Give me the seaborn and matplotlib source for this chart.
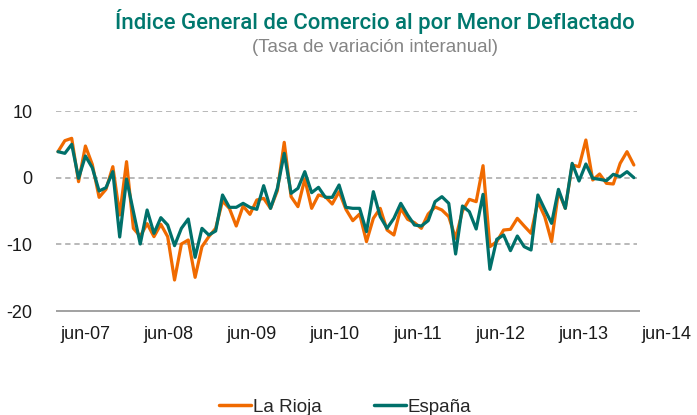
import numpy as np
import pandas as pd
import matplotlib
matplotlib.use("Agg")
import matplotlib.pyplot as plt
import seaborn as sns
from matplotlib.lines import Line2D

# ---- data (Jan 2007 .. Jan 2014, monthly) ----
la_rioja = [3.9, 5.55, 5.9, -0.6, 4.75, 2.0, -2.95, -1.75, 1.65, -5.6, 2.4, -7.6,
            -8.8, -6.9, -8.85, -7.0, -8.85, -15.35, -9.95, -9.35, -14.95, -10.35, -8.85, -7.6,
            -3.5, -4.6, -7.25, -4.25, -5.5, -3.35, -3.1, -4.6, -1.95, 5.3, -2.85, -4.35,
            -0.2, -4.6, -2.6, -2.85, -3.95, -2.1, -4.75, -6.45, -5.45, -9.6, -6.1, -4.6,
            -7.85, -8.6, -4.6, -6.25, -6.75, -7.6, -5.45, -4.4, -4.85, -5.85, -9.1, -5.0,
            -3.25, -3.6, 1.8, -10.35, -9.6, -7.85, -7.75, -6.1, -7.25, -8.35, -3.6, -5.85,
            -9.6, -2.1, -4.6, 1.9, 1.65, 5.65, -0.35, 0.55, -0.85, -0.95, 2.15, 3.9, 1.9]
espana = [3.9, 3.65, 5.0, -0.1, 3.25, 1.5, -2.0, -1.5, 0.9, -8.9, -0.2, -5.1,
          -9.95, -4.85, -8.35, -6.0, -7.1, -10.2, -7.6, -6.2, -11.95, -7.6, -8.6, -8.0,
          -2.6, -4.45, -4.45, -3.85, -4.45, -4.75, -1.2, -4.6, -1.6, 3.65, -2.35, -1.6,
          0.9, -2.25, -1.45, -2.95, -2.95, -1.1, -4.45, -4.6, -4.6, -8.1, -2.1, -5.85,
          -7.6, -6.1, -3.85, -5.6, -7.1, -7.25, -6.45, -3.6, -2.85, -3.85, -11.45, -4.25,
          -5.1, -7.7, -2.5, -13.75, -9.25, -8.6, -10.95, -8.75, -10.35, -10.85, -2.6, -4.75,
          -6.85, -1.75, -4.6, 2.15, -0.5, 2.05, -0.1, -0.25, -0.45, 0.5, 0.15, 0.9, 0.0]
tick_labels = ["jun-07", "jun-08", "jun-09", "jun-10", "jun-11", "jun-12", "jun-13", "jun-14"]
series_names = ["La Rioja", "España"]
y_ticks = [10, 0, -10, -20]

ORANGE = "#F06A00"
TEAL = "#00706A"

n = len(la_rioja)
df = pd.DataFrame({
    "t": list(range(n)) * 2,
    "valor": la_rioja + espana,
    "serie": [series_names[0]] * n + [series_names[1]] * n,
})

sns.set_style("white")
plt.rcParams["font.family"] = ["Liberation Sans", "DejaVu Sans"]

fig = plt.figure(figsize=(6.97, 4.15), dpi=100)
ax = fig.add_axes([56 / 697, 1 - 311 / 415, 619 / 697, 200 / 415])

sns.lineplot(data=df, x="t", y="valor", hue="serie", hue_order=series_names,
             palette=[ORANGE, TEAL], linewidth=2.3, ax=ax, legend=False)

x0, x1 = -0.29, 90
ax.set_xlim(x0, x1)
ax.set_ylim(-20, 10)

# grid lines only across the data span
ax.hlines([10, 0, -10], x0, 84.45, colors="#a6a6a6", linestyles=(0, (3.5, 2.5)),
          linewidth=1.1, zorder=0)
ax.hlines([-20], x0, 84.9, colors="#888888", linewidth=1.1, zorder=0, clip_on=False)

for s in ax.spines.values():
    s.set_visible(False)

ax.set_yticks(y_ticks)
ax.set_yticklabels([str(v) for v in y_ticks])
ticks = [3.94 + 12.12 * k for k in range(len(tick_labels))]
ax.set_xticks(ticks)
ax.set_xticklabels(tick_labels)
ax.tick_params(axis="both", length=0, labelsize=13, colors="#1a1a1a")
ax.tick_params(axis="x", pad=11)
ax.tick_params(axis="y", pad=17)
ax.set_xlabel("")
ax.set_ylabel("")

fig.text(375 / 697, 1 - 22 / 415, "Índice General de Comercio al por Menor Deflactado",
         ha="center", va="center", fontsize=16, color="#00786E", fontweight="medium",
         family=["Roboto", "Liberation Sans", "DejaVu Sans"])
fig.text(375 / 697, 1 - 48 / 415, "(Tasa de variación interanual)",
         ha="center", va="center", fontsize=13.5, color="#858585")

handles = [Line2D([], [], color=ORANGE, lw=2.5), Line2D([], [], color=TEAL, lw=2.5)]
fig.legend(handles, series_names, loc="center", bbox_to_anchor=(345 / 697, 1 - 407 / 415),
           ncol=2, frameon=False, fontsize=13.5, handlelength=1.7, handletextpad=0.1,
           columnspacing=2.8)

fig.savefig("out.png", dpi=100)
